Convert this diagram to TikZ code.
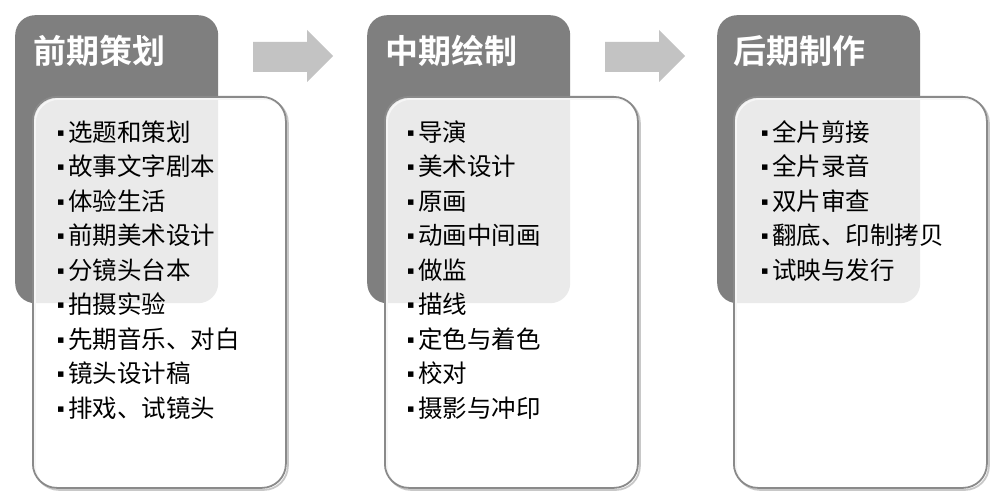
\documentclass[tikz,border=0pt]{standalone}
\usepackage{fontspec}
\setmainfont{Noto Sans CJK SC}
\newfontfamily\hdrfont{Noto Sans CJK SC Bold}
\newfontfamily\bulfont{DejaVu Sans}
\newcommand{\blt}{\raisebox{5.2pt}{\bulfont\fontsize{11}{11}\selectfont ▪}\hspace{3.5pt}}
\definecolor{hdrgray}{HTML}{7F7F7F}
\definecolor{arrowgray}{HTML}{C3C3C3}
\definecolor{edgegray}{HTML}{8A8A8A}
\definecolor{shadowgray}{HTML}{C8C8C8}
\begin{document}
\begin{tikzpicture}[x=1pt,y=-1pt,
  hdrbox/.style={fill=hdrgray, rounded corners=20pt, inner sep=0pt, anchor=north west, minimum width=203pt, minimum height=288pt},
  listbox/.style={fill=white, fill opacity=0.84, draw=edgegray, draw opacity=1, line width=1.8pt, rounded corners=24pt, inner sep=0pt, anchor=north west, minimum width=253pt, minimum height=391pt},
  shadowbox/.style={draw=shadowgray, line width=1.8pt, rounded corners=24pt, inner sep=0pt, anchor=north west, minimum width=253pt, minimum height=391pt},
  hdrtext/.style={anchor=west, inner sep=0pt, text=white, font=\hdrfont\fontsize{33}{36}\selectfont, text height=29.0pt, text depth=4.0pt},
  item/.style={anchor=west, inner sep=0pt, text=black, font=\fontsize{24.5}{28}\selectfont, text height=21.6pt, text depth=2.9pt},
  blockarrow/.style={fill=arrowgray}
]
\useasboundingbox (0,0) rectangle (998,500);
\fill[white] (0,0) rectangle (998,500);

% block arrows
\fill[blockarrow] (253,42) -- (307,42) -- (307,30) -- (333,56) -- (307,82) -- (307,72) -- (253,72) -- cycle;
\fill[blockarrow] (605,42) -- (659,42) -- (659,30) -- (685,56) -- (659,82) -- (659,72) -- (605,72) -- cycle;

% column 1
\node[hdrbox] (h1) at (15,15) {};
\node[shadowbox] (s1) at (34,98) {};
\node[listbox] (b1) at (32,96) {};
\node[hdrtext] (t1) at (33,51) {前期策划};
\foreach \txt [count=\i from 0] in {选题和策划,故事文字剧本,体验生活,前期美术设计,分镜头台本,拍摄实验,先期音乐、对白,镜头设计稿,排戏、试镜头}
  \node[item] (a\i) at (57,{132+34.5*\i}) {\blt\txt};

% column 2
\node[hdrbox] (h2) at (367,15) {};
\node[shadowbox] (s2) at (386,98) {};
\node[listbox] (b2) at (384,96) {};
\node[hdrtext] (t2) at (385,51) {中期绘制};
\foreach \txt [count=\i from 0] in {导演,美术设计,原画,动画中间画,做监,描线,定色与着色,校对,摄影与冲印}
  \node[item] (b\i) at (407,{132+34.5*\i}) {\blt\txt};

% column 3
\node[hdrbox] (h3) at (717,15) {};
\node[shadowbox] (s3) at (735,98) {};
\node[listbox] (b3) at (733,96) {};
\node[hdrtext] (t3) at (733,51) {后期制作};
\foreach \txt [count=\i from 0] in {全片剪接,全片录音,双片审查,翻底、印制拷贝,试映与发行}
  \node[item] (c\i) at (761,{132+34.5*\i}) {\blt\txt};
\end{tikzpicture}
\end{document}
